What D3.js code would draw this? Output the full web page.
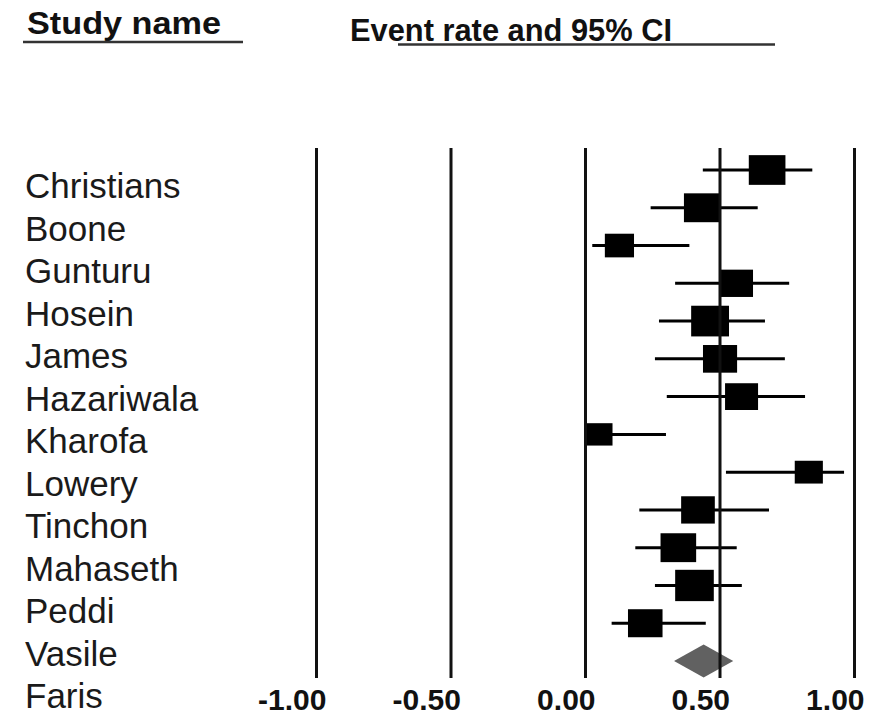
<!DOCTYPE html>
<html>
<head>
<meta charset="utf-8">
<script src="https://cdn.jsdelivr.net/npm/d3@7"></script>
<style>
  html, body { margin: 0; padding: 0; background: #fff; }
  svg { display: block; }
</style>
</head>
<body>
<svg id="chart" width="879" height="717"></svg>
<script>
// Studies in the meta-analysis, listed in the left column
const studyNames = ["Christians", "Boone", "Gunturu", "Hosein", "James", "Hazariwala",
  "Kharofa", "Lowery", "Tinchon", "Mahaseth", "Peddi", "Vasile", "Faris"];

// Event rate with lower / upper 95% confidence limits, one per study
const eventRate  = [0.677, 0.434, 0.128, 0.562, 0.465, 0.502, 0.582, 0.051, 0.832, 0.420, 0.347, 0.407, 0.224];
const lowerLimit = [0.438, 0.244, 0.027, 0.335, 0.275, 0.260, 0.304, 0.000, 0.524, 0.202, 0.187, 0.260, 0.099];
const upperLimit = [0.845, 0.642, 0.388, 0.759, 0.669, 0.743, 0.818, 0.301, 0.963, 0.684, 0.564, 0.583, 0.449];

// Relative weight (%) of each study, shown as the size of its square
const relWeight = [9.0, 8.5, 5.7, 7.6, 9.6, 7.8, 7.3, 5.1, 5.3, 7.6, 8.5, 10.0, 8.0];

// Pooled estimate (diamond)
const pooledRate = 0.441;
const pooledLower = 0.331;
const pooledUpper = 0.551;

// Axis ticks
const tickValues = [-1, -0.5, 0, 0.5, 1];
const tickLabels = ["-1.00", "-0.50", "0.00", "0.50", "1.00"];

const FONT = "'Liberation Sans', Arial, Helvetica, sans-serif";
const INK = "#111";

const svg = d3.select("#chart");

const x = d3.scaleLinear().domain([-1, 1]).range([316, 854]);
const rowY = d3.scalePoint().domain(d3.range(studyNames.length + 1)).range([170, 661]);
const nameY = d3.scalePoint().domain(studyNames).range([198, 708]);
const side = d3.scaleSqrt().domain([0, 10]).range([0, 34.8]);

// Column headers with their rules
svg.append("text")
  .attr("x", 27).attr("y", 34)
  .attr("font-family", FONT).attr("font-weight", "bold").attr("font-size", 31)
  .attr("textLength", 194).attr("lengthAdjust", "spacingAndGlyphs")
  .attr("fill", INK)
  .text("Study name");
svg.append("line")
  .attr("x1", 23).attr("x2", 243).attr("y1", 42).attr("y2", 42)
  .attr("stroke", "#333").attr("stroke-width", 2.5);

svg.append("text")
  .attr("x", 350).attr("y", 40.5)
  .attr("font-family", FONT).attr("font-weight", "bold").attr("font-size", 31)
  .attr("textLength", 322).attr("lengthAdjust", "spacingAndGlyphs")
  .attr("fill", INK)
  .text("Event rate and 95% CI");
svg.append("line")
  .attr("x1", 398).attr("x2", 775).attr("y1", 44.5).attr("y2", 44.5)
  .attr("stroke", "#333").attr("stroke-width", 2.5);

// Study names
svg.append("g")
  .selectAll("text")
  .data(studyNames)
  .join("text")
  .attr("x", 25)
  .attr("y", d => nameY(d))
  .attr("font-family", FONT).attr("font-size", 35)
  .attr("fill", "#1a1a1a")
  .text(d => d);

// Confidence intervals and weighted squares
const rows = eventRate.map((v, i) => ({
  i, rate: v, lo: lowerLimit[i], hi: upperLimit[i], w: relWeight[i]
}));

const plot = svg.append("g");
plot.selectAll("line.ci")
  .data(rows)
  .join("line")
  .attr("class", "ci")
  .attr("x1", d => x(d.lo)).attr("x2", d => x(d.hi))
  .attr("y1", d => rowY(d.i)).attr("y2", d => rowY(d.i))
  .attr("stroke", "#000").attr("stroke-width", 3);

plot.selectAll("rect.box")
  .data(rows)
  .join("rect")
  .attr("class", "box")
  .attr("x", d => x(d.rate) - side(d.w) * 1.11 / 2)
  .attr("y", d => rowY(d.i) - side(d.w) * 0.9 / 2)
  .attr("width", d => side(d.w) * 1.11)
  .attr("height", d => side(d.w) * 0.9)
  .attr("fill", "#000");

// Pooled diamond
const py = rowY(studyNames.length);
const halfH = 16.5;
plot.append("path")
  .attr("d", d3.line()([
    [x(pooledLower), py],
    [x(pooledRate), py - halfH],
    [x(pooledUpper), py],
    [x(pooledRate), py + halfH]
  ]) + "Z")
  .attr("fill", "#616161");

// Reference lines and tick labels
const axis = d3.axisBottom(x)
  .tickValues(tickValues)
  .tickFormat((d, i) => tickLabels[i])
  .tickSizeInner(-(678 - 148))
  .tickSizeOuter(0);

const ax = svg.append("g")
  .attr("transform", "translate(0,678)")
  .call(axis);
ax.select(".domain").remove();
ax.selectAll(".tick line")
  .attr("stroke", INK).attr("stroke-width", 3);
ax.selectAll(".tick text")
  .attr("y", 32).attr("dy", 0).attr("x", 10)
  .attr("text-anchor", "end")
  .attr("fill", INK)
  .style("font-family", FONT).style("font-weight", "bold").style("font-size", "30px");
</script>
</body>
</html>
